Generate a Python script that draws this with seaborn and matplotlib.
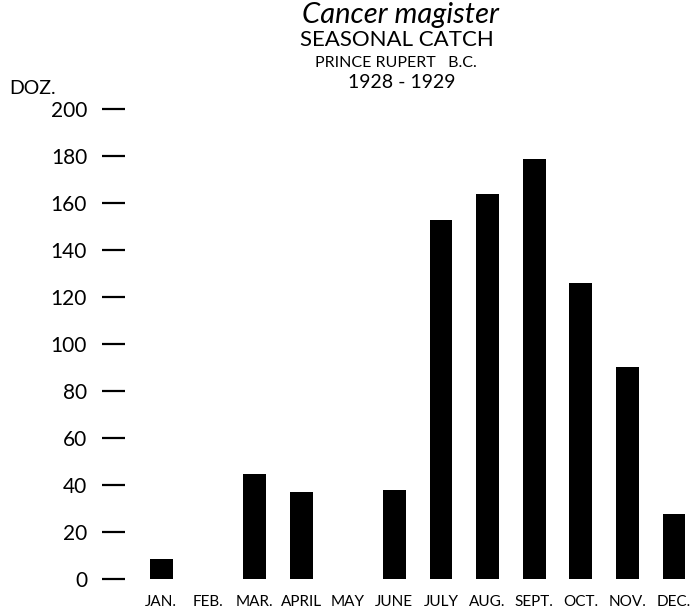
import matplotlib
matplotlib.use("Agg")
import matplotlib.pyplot as plt
import seaborn as sns
import pandas as pd

# monthly catch, dozens
months = ["JAN.", "FEB.", "MAR.", "APRIL", "MAY", "JUNE",
          "JULY", "AUG.", "SEPT.", "OCT.", "NOV.", "DEC."]
catch_doz = [8.5, 0, 44.7, 37, 0, 38, 153, 164, 179, 126, 90.5, 28]
yticks = [0, 20, 40, 60, 80, 100, 120, 140, 160, 180, 200]

df = pd.DataFrame({"month": months, "doz": catch_doz})

sns.set_theme(style="white")
plt.rcParams['font.family'] = ['Lato', 'DejaVu Sans']
plt.rcParams['text.color'] = 'black'

W, H = 694, 610
fig = plt.figure(figsize=(W / 100, H / 100), dpi=100)
# axes placed in pixel terms: left edge at the tick ends, y=0 at 579 px, y=200 at 109 px
ax = fig.add_axes([125 / W, (H - 579.3) / H, (W - 125) / W, (579.3 - 109.3) / H])

sns.barplot(data=df, x="month", y="doz", order=months, color="black",
            width=0.49, linewidth=0, saturation=1, ax=ax)

ax.set_xlim(-0.78, 11.43)
ax.set_ylim(0, 200)
ax.set_yticks(yticks)
ax.set_yticklabels([str(v) for v in yticks], fontsize=15)
ax.set_xticks(range(len(months)))
ax.set_xticklabels(months, fontsize=11)
ax.set_xlabel("")
ax.set_ylabel("")
for s in ax.spines.values():
    s.set_visible(False)
ax.tick_params(axis="y", direction="out", length=16.8, width=1.6, color="black",
               labelcolor="black", pad=10.5, left=True)
ax.tick_params(axis="x", length=0, pad=11, labelcolor="black")
for t in ax.yaxis.get_major_ticks():
    t.tick1line.set_clip_on(False)

# headings
fig.text(400 / W, 1 - 15 / H, "Cancer magister", ha="center", va="center",
         fontsize=21, style="italic")
fig.text(397 / W, 1 - 40 / H, "SEASONAL CATCH", ha="center", va="center",
         fontsize=16)
fig.text(396 / W, 1 - 63 / H, "PRINCE RUPERT   B.C.", ha="center", va="center",
         fontsize=11.5)
fig.text(402 / W, 1 - 82 / H, "1928 - 1929", ha="center", va="center",
         fontsize=14)
fig.text(9 / W, 1 - 88 / H, "DOZ.", ha="left", va="center", fontsize=14)

fig.savefig("out.png", dpi=100)
